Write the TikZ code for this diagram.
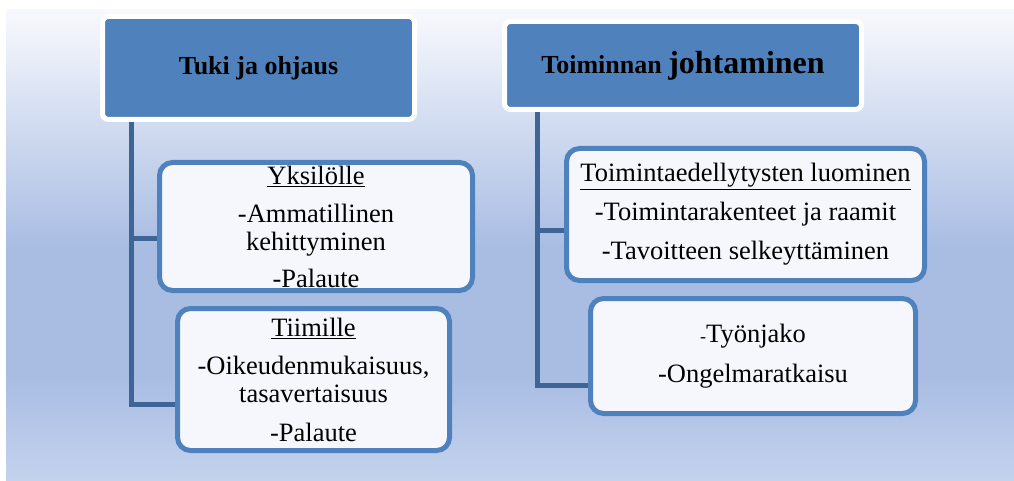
\documentclass[tikz,border=0pt]{standalone}
\usepackage{fontspec}
\setmainfont{LiberationSerif}[Extension=.ttf,UprightFont=*-Regular,BoldFont=*-Bold,
  ItalicFont=*-Italic,BoldItalicFont=*-BoldItalic]

\definecolor{hdrblue}{HTML}{4F81BD}
\definecolor{linkblue}{HTML}{3F6597}
\definecolor{boxfill}{HTML}{F5F7FC}
\definecolor{bgtop}{HTML}{F8F9FD}
\definecolor{bgmid}{HTML}{A9BDE3}
\definecolor{bgbot}{HTML}{C4D2ED}

\pgfdeclarelayer{background}
\pgfdeclarelayer{links}
\pgfsetlayers{background,links,main}
\pgfdeclareverticalshading{bgshade}{100bp}{color(0bp)=(bgbot); color(25bp)=(bgbot);
  color(36bp)=(bgmid); color(50bp)=(bgmid); color(75bp)=(bgtop); color(100bp)=(bgtop)}

\begin{document}
\begin{tikzpicture}[x=1pt,y=-1pt,
  heading/.style={rectangle,draw=white,line width=5pt,fill=hdrblue,rounded corners=6pt,
    inner sep=0pt,align=center,font=\fontsize{26}{30}\selectfont\bfseries},
  entry/.style={rectangle,draw=hdrblue,line width=5pt,fill=boxfill,rounded corners=13pt,
    inner sep=0pt,align=center,font=\fontsize{26.5}{28}\selectfont},
  link/.style={draw=linkblue,line width=5pt}]
    \useasboundingbox (0,0) rectangle (1014,481);
    % Background
    \begin{pgfonlayer}{background}
      \shade[shading=bgshade] (6,10) rectangle (1014,481);
    \end{pgfonlayer}
    % Headings
    \node[heading,minimum width=312pt,minimum height=103pt] (tuki) at (258.5,68)
      {Tuki ja ohjaus};
    \node[heading,minimum width=357pt,minimum height=88pt] (johto) at (683,65.5)
      {Toiminnan {\fontsize{32}{36}\selectfont johtaminen}};
    % Boxes under the headings
    \node[entry,minimum width=313pt,minimum height=128pt] (yksi) at (316,226.5)
      {\underline{Yksilölle}\\[10pt] -Ammatillinen\\ kehittyminen\\[9pt] -Palaute};
    \node[entry,minimum width=272pt,minimum height=142pt] (tiimi) at (313.5,379.5)
      {\underline{Tiimille}\\[10pt] -Oikeudenmukaisuus,\\ tasavertaisuus\\[11pt] -Palaute};
    \node[entry,minimum width=358pt,minimum height=132pt] (luominen) at (745.5,214.5)
      {\underline{Toimintaedellytysten luominen}\\[11pt] -Toimintarakenteet ja raamit\\[11pt]
       -Tavoitteen selkeyttäminen};
    \node[entry,minimum width=325pt,minimum height=115pt] (tyonjako) at (753,356)
      {{\fontsize{18}{28}\selectfont -}Työnjako\\[12pt] -Ongelmaratkaisu};
    % Connectors
    \begin{pgfonlayer}{links}
      \coordinate (spineL) at ([xshift=31.5pt]tuki.south west);
      \coordinate (spineR) at ([xshift=35.5pt]johto.south west);
      \coordinate (stubA) at ([yshift=-11.5pt]yksi.west);
      \coordinate (stubB) at ([yshift=-24.5pt]tiimi.west);
      \coordinate (stubC) at ([yshift=-15.5pt]luominen.west);
      \coordinate (stubD) at ([yshift=-29pt]tyonjako.west);
      \draw[link] (spineL) |- (stubB);
      \draw[link] (stubA) -- (stubA -| spineL);
      \draw[link] (spineR) |- (stubD);
      \draw[link] (stubC) -- (stubC -| spineR);
    \end{pgfonlayer}
\end{tikzpicture}
\end{document}
